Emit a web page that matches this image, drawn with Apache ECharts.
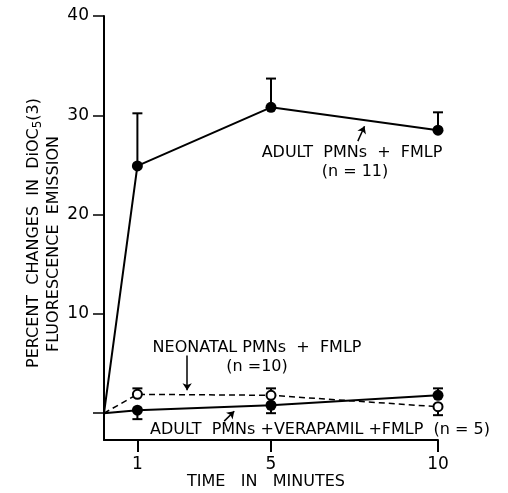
<!DOCTYPE html>
<html>
<head>
<meta charset="utf-8">
<script src="https://cdn.jsdelivr.net/npm/echarts@6/dist/echarts.min.js"></script>
<style>
  html, body { margin: 0; padding: 0; background: #fff; }
  #chart { width: 508px; height: 493px; }
</style>
</head>
<body>
<div id="chart"></div>
<script>
// time points (minutes)
const minutes = [0, 1, 5, 10]
// mean values, percent change
const adultFmlp = [0, 24.9, 30.8, 28.5]
const neonatalFmlp = [0, 1.9, 1.8, 0.65]
const adultVerapamil = [0, 0.3, 0.8, 1.8]
// end of the error bar (one sided)
const adultFmlpErr = [null, 30.2, 33.7, 30.3]
const neonatalFmlpErr = [null, 2.5, 2.5, -0.2]
const adultVerapamilErr = [null, -0.6, 0.0, 2.5]
// axis ticks
const yTicks = [0, 10, 20, 30, 40]
const yLabels = [10, 20, 30, 40]
const xTicks = [1, 5, 10]

const font = 'DejaVu Sans'

function points (vals) {
  return minutes.map((m, i) => i === 0 ? { value: [m, vals[i]], symbol: 'none' } : [m, vals[i]])
}
function bars (vals, errs) {
  const out = []
  minutes.forEach((m, i) => {
    if (errs[i] !== null) out.push([m, vals[i], errs[i]])
  })
  return out
}

function errorBarItem (params, api) {
  const p0 = api.coord([api.value(0), api.value(1)])
  const p1 = api.coord([api.value(0), api.value(2)])
  const half = 5
  const st = { stroke: '#000', lineWidth: 2 }
  return {
    type: 'group',
    children: [
      { type: 'line', shape: { x1: p0[0], y1: p0[1], x2: p1[0], y2: p1[1] }, style: st },
      { type: 'line', shape: { x1: p1[0] - half, y1: p1[1], x2: p1[0] + half, y2: p1[1] }, style: st }
    ]
  }
}

function arrow (from, to) {
  return [{ coord: from, symbol: 'none' }, { coord: to, symbol: 'arrow' }]
}

function label (x, y, text) {
  return {
    type: 'text', x: x, y: y,
    style: { text: text, align: 'center', verticalAlign: 'middle', fill: '#000', fontSize: 16, fontFamily: font }
  }
}

const chart = echarts.init(document.getElementById('chart'))
chart.setOption({
  animation: false,
  backgroundColor: '#fff',
  grid: { left: 104, right: 70, top: 16, bottom: 53 },
  xAxis: {
    type: 'value',
    min: 0,
    max: 10,
    axisLine: { onZero: false, lineStyle: { color: '#000', width: 2 } },
    axisTick: { customValues: xTicks, length: 12, lineStyle: { color: '#000', width: 2 } },
    axisLabel: { customValues: xTicks, margin: 16, color: '#000', fontSize: 17, fontFamily: font },
    splitLine: { show: false }
  },
  yAxis: {
    type: 'value',
    min: -2.7,
    max: 40,
    axisLine: { show: true, onZero: false, lineStyle: { color: '#000', width: 2 } },
    axisTick: { show: true, customValues: yTicks, length: 11, lineStyle: { color: '#000', width: 1.5 } },
    axisLabel: { customValues: yLabels, margin: 15, color: '#000', fontSize: 17, fontFamily: font },
    splitLine: { show: false }
  },
  series: [
    {
      type: 'custom',
      renderItem: errorBarItem,
      data: bars(adultFmlp, adultFmlpErr),
      z: 1
    },
    {
      type: 'custom',
      renderItem: errorBarItem,
      data: bars(neonatalFmlp, neonatalFmlpErr),
      z: 1
    },
    {
      type: 'custom',
      renderItem: errorBarItem,
      data: bars(adultVerapamil, adultVerapamilErr),
      z: 1
    },
    {
      name: 'ADULT PMNs + FMLP',
      type: 'line',
      data: points(adultFmlp),
      symbol: 'circle',
      symbolSize: 11,
      itemStyle: { color: '#000' },
      lineStyle: { color: '#000', width: 2 },
      z: 3,
      markLine: {
        silent: true,
        symbolSize: 7,
        label: { show: false },
        lineStyle: { color: '#000', width: 1.5, type: 'solid' },
        data: [arrow([7.6, 27.4], [7.8, 28.9])]
      }
    },
    {
      name: 'NEONATAL PMNs + FMLP',
      type: 'line',
      data: points(neonatalFmlp),
      symbol: 'circle',
      symbolSize: 9,
      itemStyle: { color: '#fff', borderColor: '#000', borderWidth: 2 },
      lineStyle: { color: '#000', width: 1.5, type: [6, 4] },
      z: 3,
      markLine: {
        silent: true,
        symbolSize: 7,
        label: { show: false },
        lineStyle: { color: '#000', width: 1.5, type: 'solid' },
        data: [arrow([2.49, 5.8], [2.49, 2.3])]
      }
    },
    {
      name: 'ADULT PMNs + VERAPAMIL + FMLP',
      type: 'line',
      data: points(adultVerapamil),
      symbol: 'circle',
      symbolSize: 11,
      itemStyle: { color: '#000' },
      lineStyle: { color: '#000', width: 2 },
      z: 4,
      markLine: {
        silent: true,
        symbolSize: 7,
        label: { show: false },
        lineStyle: { color: '#000', width: 1.5, type: 'solid' },
        data: [arrow([3.6, -0.8], [3.9, 0.2])]
      }
    }
  ],
  graphic: [
    {
      type: 'text', x: 34, y: 233, rotation: Math.PI / 2,
      style: {
        text: '{n|PERCENT  CHANGES  IN  DiOC}{s|5}{n|(3)}',
        align: 'center', verticalAlign: 'middle', fill: '#000',
        rich: {
          n: { fontSize: 16, fontFamily: font, fill: '#000', height: 18 },
          s: { fontSize: 12, fontFamily: font, fill: '#000', height: 18, padding: [8, 0, 0, 0] }
        }
      }
    },
    {
      type: 'text', x: 54, y: 244, rotation: Math.PI / 2,
      style: { text: 'FLUORESCENCE  EMISSION', align: 'center', verticalAlign: 'middle', fill: '#000', fontSize: 16, fontFamily: font }
    },
    label(266, 482, 'TIME   IN   MINUTES'),
    label(352, 153, 'ADULT  PMNs  +  FMLP'),
    label(355, 172, '(n = 11)'),
    label(257, 348, 'NEONATAL PMNs  +  FMLP'),
    label(257, 367, '(n =10)'),
    label(320, 430, 'ADULT  PMNs +VERAPAMIL +FMLP  (n = 5)')
  ]
})
</script>
</body>
</html>
